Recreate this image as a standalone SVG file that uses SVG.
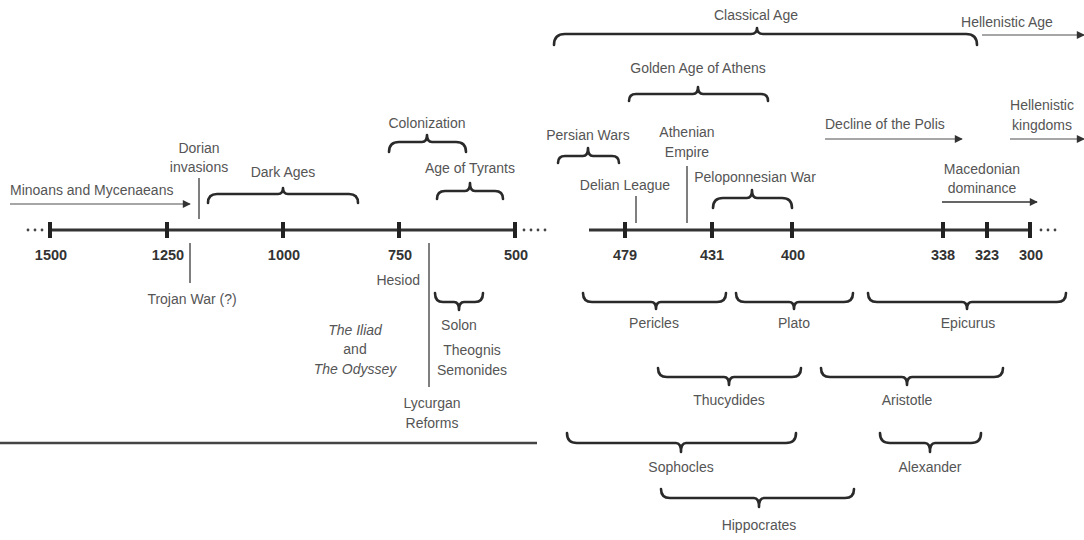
<svg xmlns="http://www.w3.org/2000/svg" width="1084" height="540" viewBox="0 0 1084 540">
<defs>
<style>
.t{font-family:"Liberation Sans",Arial,sans-serif;font-size:14px;fill:#555}
.c{text-anchor:middle}
.i{font-style:italic}
.y{font-family:"Liberation Sans",Arial,sans-serif;font-size:14.5px;font-weight:bold;fill:#333;text-anchor:middle}
.br{fill:none;stroke:#2a2a2a;stroke-width:2.6;stroke-linecap:round;stroke-linejoin:round}
.ln{stroke:#555;stroke-width:1.5;fill:none}
.ar{stroke:#888;stroke-width:1.6;fill:none}
.ard{stroke:#333;stroke-width:1.6;fill:none}
.axis{stroke:#333;stroke-width:3;fill:none}
.tick{fill:#222}
.dot{fill:#444}
</style>
<marker id="ah" viewBox="0 0 10 10" refX="9" refY="5" markerWidth="9" markerHeight="8" markerUnits="userSpaceOnUse" orient="auto">
<path d="M0,0 L10,5 L0,10 z" fill="#333"/>
</marker>
</defs>
<rect width="1084" height="540" fill="#fff"/>

<g id="axes">
<line class="axis" x1="50" y1="230" x2="515" y2="230"/>
<line class="axis" x1="589" y1="230" x2="1030" y2="230"/>
<g class="tick">
<rect x="48" y="222" width="4" height="16"/>
<rect x="165" y="222" width="4" height="16"/>
<rect x="281" y="222" width="4" height="16"/>
<rect x="397" y="222" width="4" height="16"/>
<rect x="513" y="222" width="4" height="16"/>
<rect x="623" y="222" width="4" height="16"/>
<rect x="710" y="222" width="4" height="16"/>
<rect x="790" y="222" width="4" height="16"/>
<rect x="941" y="222" width="4" height="16"/>
<rect x="985" y="222" width="4" height="16"/>
<rect x="1028" y="222" width="4" height="16"/>
</g>
<g class="dot">
<circle cx="28" cy="230" r="1.4"/><circle cx="35" cy="230" r="1.4"/><circle cx="42" cy="230" r="1.4"/>
<circle cx="524" cy="230" r="1.4"/><circle cx="531" cy="230" r="1.4"/><circle cx="538" cy="230" r="1.4"/><circle cx="545" cy="230" r="1.4"/>
<circle cx="1041" cy="230" r="1.4"/><circle cx="1048" cy="230" r="1.4"/><circle cx="1055" cy="230" r="1.4"/>
</g>
<text class="y" x="51" y="260">1500</text>
<text class="y" x="168" y="260">1250</text>
<text class="y" x="284" y="260">1000</text>
<text class="y" x="400" y="260">750</text>
<text class="y" x="516" y="260">500</text>
<text class="y" x="625" y="260">479</text>
<text class="y" x="712" y="260">431</text>
<text class="y" x="793" y="260">400</text>
<text class="y" x="943" y="260">338</text>
<text class="y" x="987" y="260">323</text>
<text class="y" x="1031" y="260">300</text>
<line x1="0" y1="443" x2="537" y2="443" stroke="#444" stroke-width="2.5"/>
</g>

<g id="connectors">
<line class="ar" x1="10" y1="204" x2="190" y2="204" marker-end="url(#ah)"/>
<line class="ar" x1="825" y1="139" x2="962" y2="139" marker-end="url(#ah)"/>
<line class="ar" x1="1010" y1="139" x2="1084" y2="139" marker-end="url(#ah)"/>
<line class="ar" x1="982" y1="35" x2="1084" y2="35" marker-end="url(#ah)"/>
<line class="ard" x1="942" y1="202" x2="1037" y2="202" marker-end="url(#ah)"/>
<line class="ln" x1="199" y1="178" x2="199" y2="219"/>
<line class="ln" x1="190" y1="243" x2="190" y2="283"/>
<line class="ln" x1="429" y1="243" x2="429" y2="387"/>
<line class="ln" x1="636" y1="196" x2="636" y2="223"/>
<line class="ln" x1="687" y1="166" x2="687" y2="223"/>
</g>

<g id="minoans"><text class="t" x="10" y="195">Minoans and Mycenaeans</text></g>
<g id="dorian"><text class="t c" x="199" y="153">Dorian</text><text class="t c" x="199" y="172">invasions</text></g>
<g id="dark-ages">
<path class="br" d="M208,203 Q208,194 217,194 H278 Q283,194 283,188 Q283,194 288,194 H349 Q358,194 358,203"/>
<text class="t c" x="283" y="177">Dark Ages</text>
</g>
<g id="colonization">
<path class="br" d="M389,152 Q389,142 399,142 H422 Q427,142 427,135 Q427,142 432,142 H456 Q466,142 466,152"/>
<text class="t c" x="427" y="128">Colonization</text>
</g>
<g id="tyrants">
<path class="br" d="M437,199 Q437,191 445,191 H465 Q470,191 470,183 Q470,191 475,191 H495 Q503,191 503,199"/>
<text class="t c" x="470" y="173">Age of Tyrants</text>
</g>
<g id="trojan"><text class="t c" x="192" y="304">Trojan War (?)</text></g>
<g id="hesiod"><text class="t" x="420" y="285" text-anchor="end">Hesiod</text></g>
<g id="solon">
<path class="br" d="M435,293 Q435,302 443,302 H454 Q459,302 459,310 Q459,302 464,302 H475 Q483,302 483,293"/>
<text class="t c" x="459" y="330">Solon</text>
</g>
<g id="theognis"><text class="t c" x="472" y="355">Theognis</text><text class="t c" x="472" y="375">Semonides</text></g>
<g id="homer"><text class="t c i" x="355" y="335">The Iliad</text><text class="t c" x="355" y="354">and</text><text class="t c i" x="355" y="374">The Odyssey</text></g>
<g id="lycurgan"><text class="t c" x="432" y="408">Lycurgan</text><text class="t c" x="432" y="428">Reforms</text></g>

<g id="classical">
<path class="br" d="M554,45 Q554,34 565,34 H751 Q757,34 757,28 Q757,34 763,34 H966 Q977,34 977,45"/>
<text class="t c" x="756" y="20">Classical Age</text>
</g>
<g id="hellenistic-age"><text class="t c" x="1007" y="27">Hellenistic Age</text></g>
<g id="golden">
<path class="br" d="M629,101 Q629,94 636,94 H693 Q698,94 698,87 Q698,94 703,94 H761 Q768,94 768,101"/>
<text class="t c" x="698" y="73">Golden Age of Athens</text>
</g>
<g id="persian">
<path class="br" d="M558,163 Q558,156 565,156 H583 Q588,156 588,148 Q588,156 593,156 H612 Q619,156 619,163"/>
<text class="t c" x="588" y="140">Persian Wars</text>
</g>
<g id="delian"><text class="t c" x="625" y="190">Delian League</text></g>
<g id="athenian"><text class="t c" x="687" y="137">Athenian</text><text class="t c" x="687" y="157">Empire</text></g>
<g id="peloponnesian">
<path class="br" d="M713,208 Q713,198 723,198 H747 Q752,198 752,190 Q752,198 757,198 H782 Q792,198 792,208"/>
<text class="t c" x="755" y="182">Peloponnesian War</text>
</g>
<g id="decline"><text class="t" x="825" y="129">Decline of the Polis</text></g>
<g id="kingdoms"><text class="t c" x="1042" y="110">Hellenistic</text><text class="t c" x="1042" y="130">kingdoms</text></g>
<g id="macedonian"><text class="t c" x="982" y="174">Macedonian</text><text class="t c" x="982" y="193">dominance</text></g>

<g id="pericles">
<path class="br" d="M583,293 Q583,302 592,302 H651 Q656,302 656,309 Q656,302 661,302 H717 Q726,302 726,293"/>
<text class="t c" x="654" y="328">Pericles</text>
</g>
<g id="plato">
<path class="br" d="M736,293 Q736,302 745,302 H789 Q794,302 794,309 Q794,302 799,302 H844 Q853,302 853,293"/>
<text class="t c" x="794" y="328">Plato</text>
</g>
<g id="epicurus">
<path class="br" d="M868,293 Q868,302 877,302 H962 Q967,302 967,309 Q967,302 972,302 H1057 Q1066,302 1066,293"/>
<text class="t c" x="968" y="328">Epicurus</text>
</g>
<g id="thucydides">
<path class="br" d="M658,368 Q658,377 667,377 H724 Q729,377 729,385 Q729,377 734,377 H792 Q801,377 801,368"/>
<text class="t c" x="729" y="405">Thucydides</text>
</g>
<g id="aristotle">
<path class="br" d="M821,368 Q821,377 830,377 H902 Q907,377 907,385 Q907,377 912,377 H994 Q1003,377 1003,368"/>
<text class="t c" x="907" y="405">Aristotle</text>
</g>
<g id="sophocles">
<path class="br" d="M567,433 Q567,443 577,443 H676 Q681,443 681,452 Q681,443 686,443 H786 Q796,443 796,433"/>
<text class="t c" x="681" y="472">Sophocles</text>
</g>
<g id="alexander">
<path class="br" d="M880,433 Q880,443 890,443 H925 Q930,443 930,452 Q930,443 935,443 H971 Q981,443 981,433"/>
<text class="t c" x="930" y="472">Alexander</text>
</g>
<g id="hippocrates">
<path class="br" d="M661,489 Q661,498 670,498 H754 Q759,498 759,507 Q759,498 764,498 H845 Q854,498 854,489"/>
<text class="t c" x="759" y="530">Hippocrates</text>
</g>
</svg>
